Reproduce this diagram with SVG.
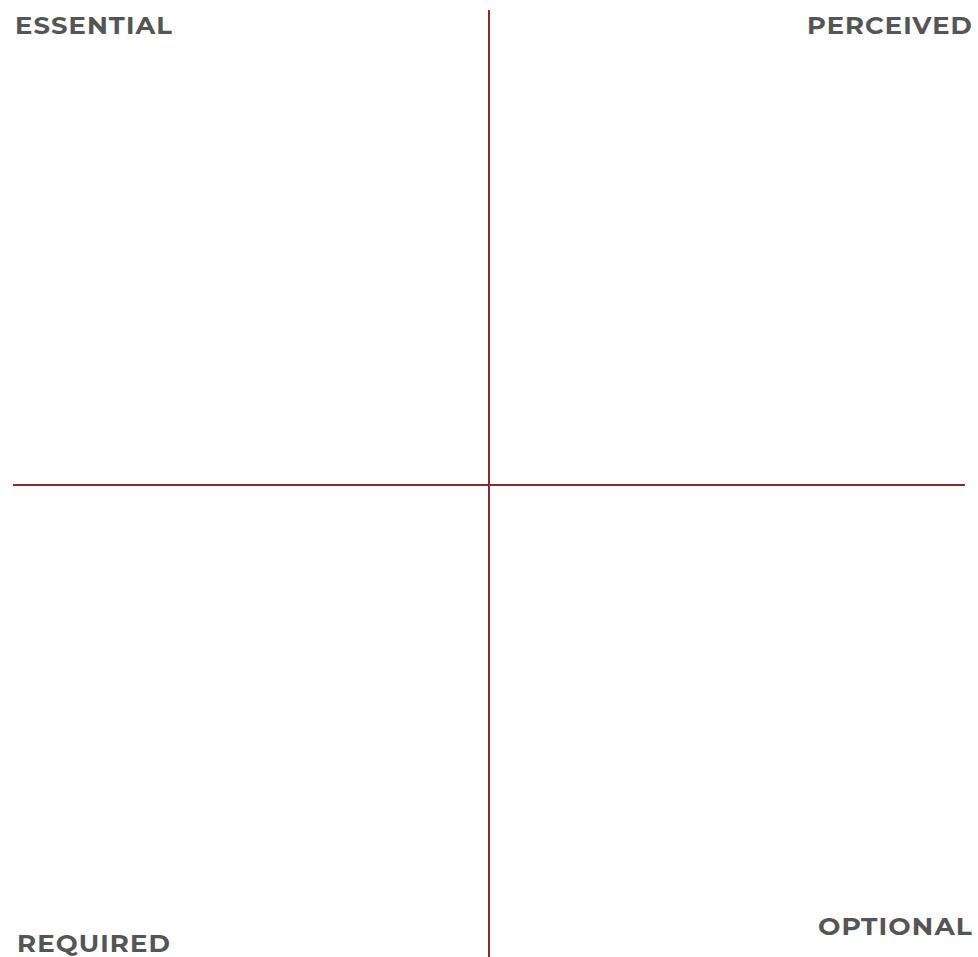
<svg xmlns="http://www.w3.org/2000/svg" width="978" height="957" viewBox="0 0 978 957">
<style>
.lbl{font-family:"Montserrat","Open Sans","Liberation Sans",sans-serif;font-weight:700;font-size:24px;fill:#555555;letter-spacing:1px}
.ax{stroke:#8b2a2a;stroke-width:2;fill:none}
</style>
<rect width="978" height="957" fill="#ffffff"/>
<g id="axes">
<line class="ax" x1="13" y1="485" x2="965" y2="485"/>
<line class="ax" x1="489" y1="10" x2="489" y2="957"/>
</g>
<g id="essential"><text class="lbl" x="15" y="34" textLength="158" lengthAdjust="spacingAndGlyphs">ESSENTIAL</text></g>
<g id="perceived"><text class="lbl" x="807" y="34" textLength="166" lengthAdjust="spacingAndGlyphs">PERCEIVED</text></g>
<g id="required"><text class="lbl" x="17" y="952" textLength="154" lengthAdjust="spacingAndGlyphs">REQUIRED</text></g>
<g id="optional"><text class="lbl" x="818" y="935" textLength="155" lengthAdjust="spacingAndGlyphs">OPTIONAL</text></g>
</svg>
